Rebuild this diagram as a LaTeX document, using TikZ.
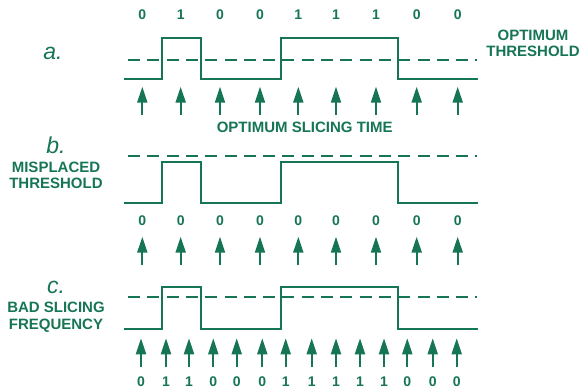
\documentclass[tikz,border=0pt]{standalone}
\usepackage{fontspec}
\setmainfont{Liberation Sans}
\usetikzlibrary{arrows.meta}
\definecolor{adgreen}{RGB}{22,118,84}
\begin{document}
\begin{tikzpicture}[x=1pt,y=-1pt,
  sig/.style={draw=adgreen,line width=2pt,line join=miter},
  thr/.style={draw=adgreen,line width=2pt,dash pattern=on 12pt off 7.3pt},
  sarrow/.style={draw=adgreen,line width=2pt,-{Triangle[length=16pt,width=10pt]}},
  digit/.style={text=adgreen,font=\fontsize{14}{14}\selectfont\bfseries,anchor=base,inner sep=0pt},
  lbl/.style={text=adgreen,font=\fontsize{15}{15.8}\selectfont\bfseries,align=center,inner sep=0pt,anchor=base},
  letter/.style={text=adgreen,font=\fontsize{23}{23}\selectfont\itshape,anchor=base,inner sep=0pt}]
\useasboundingbox (0,0) rectangle (582,389);

% ---------- a ----------
\draw[thr] (128,60) -- (477,60);
\draw[sig] (124,79) -- (162,79) -- (162,37.7) -- (200.5,37.7) -- (200.5,79) -- (280.5,79) -- (280.5,37.7) -- (397.5,37.7) -- (397.5,79) -- (477.5,79);
\foreach \x/\d [count=\i] in {142.3/0,180.7/1,220/0,260/0,298.3/1,336/1,376/1,416.7/0,457.7/0}{
  \node[digit] (da\i) at (\x,19) {\d};
  \coordinate (at\i) at (\x,115);
  \coordinate (ah\i) at (\x,86.7);
  \draw[sarrow] (at\i) -- (ah\i);
}
\node[letter] (la) at (53,59) {a.};
\node[lbl] (ot) at (533,40.7) {OPTIMUM};
\node[lbl] (ot2) at (533,56) {THRESHOLD};
\node[lbl] (ost) at (304.7,132.7) {OPTIMUM SLICING TIME};

% ---------- b ----------
\draw[thr] (128,155.7) -- (477,155.7);
\draw[sig] (124,203.3) -- (162,203.3) -- (162,162.3) -- (200.5,162.3) -- (200.5,203.3) -- (280.5,203.3) -- (280.5,162.3) -- (397.5,162.3) -- (397.5,203.3) -- (477.5,203.3);
\foreach \x [count=\i] in {142.3,180.7,220,260,298.3,336,376,416.7,457.7}{
  \node[digit] (db\i) at (\x,225) {0};
  \coordinate (bt\i) at (\x,265);
  \coordinate (bh\i) at (\x,236.7);
  \draw[sarrow] (bt\i) -- (bh\i);
}
\node[letter] (lb) at (56,153.3) {b.};
\node[lbl] (mt) at (56,172.7) {MISPLACED};
\node[lbl] (mt2) at (56,188.3) {THRESHOLD};

% ---------- c ----------
\draw[thr] (128,296.7) -- (477,296.7);
\draw[sig] (124,328.7) -- (162,328.7) -- (162,286.7) -- (200.5,286.7) -- (200.5,328.7) -- (280.5,328.7) -- (280.5,286.7) -- (397.5,286.7) -- (397.5,328.7) -- (477.5,328.7);
\foreach \x/\d [count=\i] in {141/0,166/1,189/1,213.3/0,236.7/0,262.3/0,285.7/1,311.7/1,336/1,360/1,384/1,407.3/0,432.7/0,456.7/0}{
  \node[digit] (dc\i) at (\x,386) {\d};
  \coordinate (ct\i) at (\x,366.7);
  \coordinate (ch\i) at (\x,338.3);
  \draw[sarrow] (ct\i) -- (ch\i);
}
\node[letter] (lc) at (56,293.3) {c.};
\node[lbl] (bs) at (56,312.7) {BAD SLICING};
\node[lbl] (bs2) at (56,329.3) {FREQUENCY};
\end{tikzpicture}
\end{document}
